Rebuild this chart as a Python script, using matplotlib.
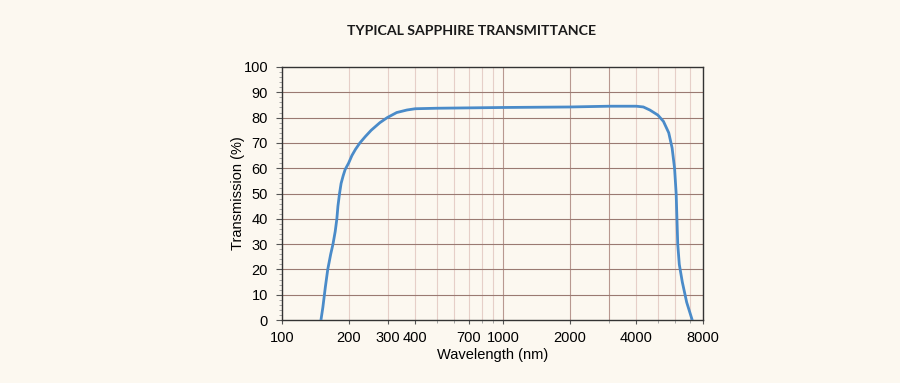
import matplotlib.pyplot as plt
from matplotlib.ticker import FixedLocator, FixedFormatter, MultipleLocator

# transmission curve
wavelength = [150, 153, 157, 161, 166, 170, 174, 177, 179, 182, 185, 189, 193,
              200, 207, 215, 225, 238, 253, 277, 299, 330, 367, 400, 500,
              1000, 2000, 3000, 4000, 4300, 4600, 5000, 5300, 5600, 5800,
              5950, 6050, 6100, 6150, 6250, 6450, 6750, 7150]
transmission = [0, 5, 13, 20, 26, 30, 35, 40, 45, 50, 54, 57, 59.5,
                62, 65, 67.5, 70, 72.5, 75, 78, 80, 82, 83, 83.5, 83.7,
                84.0, 84.2, 84.5, 84.5, 84.2, 83, 81, 78.5, 74, 68,
                60, 50, 40, 30, 22, 15, 7, 0]

xtick_vals = [100, 200, 300, 400, 700, 1000, 2000, 4000, 8000]
xtick_labels = ["100", "200", "300", "400", "700", "1000", "2000", "4000", "8000"]
vgrid = list(range(100, 1000, 100)) + list(range(1000, 9000, 1000))
vgrid_dark = [1000, 2000, 3000]

bg = "#fcf8f0"
plt.rcParams["font.family"] = ["Liberation Sans", "DejaVu Sans"]

fig = plt.figure(figsize=(9, 3.83), dpi=100, facecolor=bg)
ax = fig.add_axes([282 / 900, 1 - 320 / 383, 421 / 900, 253 / 383])
ax.set_facecolor(bg)
ax.set_xscale("log")
ax.set_xlim(100, 8000)
ax.set_ylim(0, 100)

for v in vgrid:
    c = "#b89890" if v in vgrid_dark else "#e6cfc8"
    ax.axvline(v, color=c, lw=0.8, zorder=1)
for h in range(10, 100, 10):
    ax.axhline(h, color="#9a7a72", lw=0.8, zorder=1)

ax.plot(wavelength, transmission, color="#4a8bc9", lw=2, zorder=3,
        solid_joinstyle="round", solid_capstyle="round")

ax.xaxis.set_major_locator(FixedLocator(xtick_vals))
ax.xaxis.set_major_formatter(FixedFormatter(xtick_labels))
ax.xaxis.set_minor_locator(FixedLocator(vgrid))
ax.xaxis.set_minor_formatter(FixedFormatter([]))
ax.yaxis.set_major_locator(MultipleLocator(10))
ax.yaxis.set_minor_locator(MultipleLocator(2))

ax.tick_params(axis="both", which="major", labelsize=10.5, color="#555555", length=4, pad=6)
ax.tick_params(axis="both", which="minor", color="#999999", length=2)
ax.tick_params(axis="x", which="major", length=3, pad=5)

for s in ax.spines.values():
    s.set_color("#333333")
    s.set_linewidth(1.0)

ax.set_xlabel("Wavelength (nm)", fontsize=10.5, labelpad=2)
ax.set_ylabel("Transmission (%)", fontsize=10.5, labelpad=-1)

fig.text(472 / 900, 1 - 31 / 383, "TYPICAL SAPPHIRE TRANSMITTANCE", ha="center", va="center",
         fontsize=10.2, fontweight="bold", family=["Lato", "DejaVu Sans"], color="#1a1a1a")

fig.savefig("out.png", dpi=100, facecolor=bg)
